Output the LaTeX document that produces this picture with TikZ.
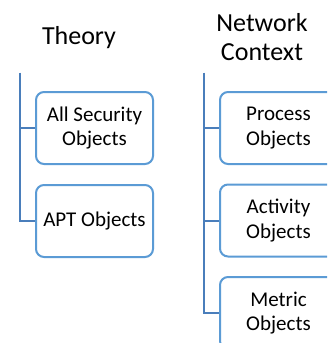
\documentclass[tikz,border=0pt]{standalone}
\usepackage{fontspec}
\setmainfont{Carlito}
\definecolor{boxblue}{RGB}{91,155,213}
\definecolor{linkblue}{RGB}{74,126,187}
\begin{document}
\begin{tikzpicture}[x=1pt,y=-1pt,
  objbox/.style={draw=boxblue, line width=2pt, rounded corners=8pt,
    minimum width=117pt, minimum height=72pt, anchor=north west,
    align=center, inner sep=0pt, fill=white,
    font=\fontsize{21}{24.5}\selectfont},
  heading/.style={align=center, inner sep=0pt,
    font=\fontsize{26}{28.5}\selectfont},
  tree/.style={draw=linkblue, line width=2pt}]
\useasboundingbox (0,0) rectangle (327,343);
\clip (0,0) rectangle (327,343);

% left column
\node[heading] (theory) at (79,38) {Theory};
\coordinate (ttop) at (20,72.5);
\node[objbox] (allsec) at (35,91) {All Security\\Objects};
\node[objbox] (apt) at (35,184) {APT Objects};
\draw[tree] (ttop) -- (ttop |- apt.west) -- (apt.west);
\draw[tree] (ttop |- allsec.west) -- (allsec.west);

% right column
\node[heading] (network) at (262,37) {Network\\Context};
\coordinate (ntop) at (203.5,72.5);
\node[objbox] (proc) at (219,91) {Process\\Objects};
\node[objbox] (act) at (219,183.5) {Activity\\Objects};
\node[objbox] (metric) at (219,276) {Metric\\Objects};
\draw[tree] (ntop) -- (ntop |- metric.west) -- (metric.west);
\draw[tree] (ntop |- proc.west) -- (proc.west);
\draw[tree] (ntop |- act.west) -- (act.west);
\end{tikzpicture}
\end{document}
